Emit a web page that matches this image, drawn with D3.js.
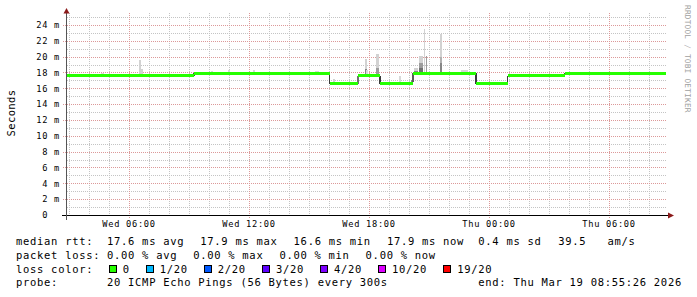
<!DOCTYPE html>
<html>
<head>
<meta charset="utf-8">
<script src="https://cdn.jsdelivr.net/npm/d3@7"></script>
<style>
body { margin: 0; background: #fff; }
svg { display: block; }
text { font-family: "DejaVu Sans Mono", monospace; white-space: pre; }
</style>
</head>
<body>
<svg width="697" height="297"></svg>
<script>
var parseT = d3.timeParse('%Y-%m-%d %H:%M');
var startTime = new Date(2026, 2, 18, 2, 55, 26);
var endTime = new Date(2026, 2, 19, 8, 55, 26);

// median rtt (ms), constant steps
var segFrom = ['2026-03-18 02:55', '2026-03-18 09:16', '2026-03-18 16:03', '2026-03-18 17:28', '2026-03-18 18:34',
	'2026-03-18 20:13', '2026-03-18 23:22', '2026-03-19 00:57', '2026-03-19 03:48'];
var segTo = ['2026-03-18 09:16', '2026-03-18 16:03', '2026-03-18 17:28', '2026-03-18 18:34', '2026-03-18 20:13',
	'2026-03-18 23:22', '2026-03-19 00:57', '2026-03-19 03:48', '2026-03-19 08:52'];
var segMs = [17.6, 17.9, 16.6, 17.6, 16.6, 17.9, 16.6, 17.6, 17.9];

// small wobbles of the median
var bumpAt = ['2026-03-18 03:34', '2026-03-18 04:34', '2026-03-18 05:43', '2026-03-18 06:25', '2026-03-18 07:25', '2026-03-18 08:22',
	'2026-03-18 09:28', '2026-03-18 10:07', '2026-03-18 11:19', '2026-03-18 11:58', '2026-03-18 12:34', '2026-03-18 13:04',
	'2026-03-18 13:49', '2026-03-18 14:22', '2026-03-18 15:04', '2026-03-19 04:04', '2026-03-19 05:01', '2026-03-19 05:16',
	'2026-03-19 06:25', '2026-03-19 07:10', '2026-03-19 08:04', '2026-03-19 08:43'];
var bumpMin = [10, 5, 10, 15, 10, 5, 10, 20, 10, 5, 10, 10, 30, 10, 15, 30, 5, 15, 15, 5, 25, 10];
var bumpMs = [17.7, 17.7, 17.7, 17.7, 17.7, 17.7, 17.8, 17.8, 17.8, 17.8, 17.8, 17.8,
	17.8, 17.8, 17.8, 17.8, 17.8, 17.8, 17.8, 17.8, 17.8, 17.8];

// smoke: spread of the 20 pings
var smokeAt = ['2026-03-18 04:37', '2026-03-18 06:31', '2026-03-18 06:37', '2026-03-18 07:22', '2026-03-18 09:13',
	'2026-03-18 10:07', '2026-03-18 10:58', '2026-03-18 12:13', '2026-03-18 15:20', '2026-03-18 16:00',
	'2026-03-18 16:13', '2026-03-18 17:25', '2026-03-18 17:49', '2026-03-18 17:49', '2026-03-18 17:53',
	'2026-03-18 18:22', '2026-03-18 18:22', '2026-03-18 18:31', '2026-03-18 19:31', '2026-03-18 20:07',
	'2026-03-18 20:10', '2026-03-18 20:17', '2026-03-18 20:17', '2026-03-18 20:32', '2026-03-18 20:32',
	'2026-03-18 20:32', '2026-03-18 20:45', '2026-03-18 20:51', '2026-03-18 21:33', '2026-03-18 21:33',
	'2026-03-18 21:33', '2026-03-18 22:37', '2026-03-18 23:19', '2026-03-19 00:54', '2026-03-19 03:45'];
var smokeMin = [10, 5, 5, 15, 5, 5, 5, 5, 10, 5, 5, 5, 5, 5, 5, 10, 10, 5, 5, 5, 5, 10, 10, 10, 10, 10,
	5, 5, 8, 8, 8, 20, 5, 5, 5];
var smokeLo = [17.6, 17.6, 17.6, 17.6, 17.6, 17.9, 17.9, 17.9, 17.9, 16.6, 16.6, 16.6, 17.6, 17.6, 17.6,
	17.6, 17.6, 16.6, 16.6, 16.6, 16.8, 17.9, 17.9, 17.9, 17.9, 17.9, 17.9, 17.9, 17.9, 17.9, 17.9,
	17.9, 16.6, 16.6, 17.6];
var smokeHi = [17.9, 19.6, 18.4, 17.85, 17.9, 18.2, 18.25, 18.3, 18.2, 17.9, 17.2, 17.6, 19.65, 18.4, 18.3,
	20.3, 18.5, 17.6, 17.5, 17.0, 17.9, 18.5, 18.2, 20.1, 19.2, 18.5, 23.45, 20.1, 22.9, 19.9, 19.2,
	18.3, 17.9, 17.6, 17.9];
var smokeDensity = [0.12, 0.15, 0.15, 0.12, 0.8, 0.12, 0.12, 0.12, 0.12, 0.85, 0.15, 0.6, 0.15, 0.5, 0.12,
	0.15, 0.4, 0.85, 0.12, 0.5, 0.7, 0.15, 0.5, 0.15, 0.4, 0.6, 0.15, 0.4, 0.15, 0.3, 0.5,
	0.12, 0.85, 0.85, 0.8];

var yTicks = [0, 2, 4, 6, 8, 10, 12, 14, 16, 18, 20, 22, 24];

var rttValues = [17.6, 17.9, 16.6, 17.9];
var rttNames = ['avg', 'max', 'min', 'now'];
var rttSd = 0.4;
var rttAmS = 39.5;
var lossValues = [0, 0, 0, 0];
var lossNames = ['avg', 'max', 'min', 'now'];
var lossSteps = ['0', '1/20', '2/20', '3/20', '4/20', '10/20', '19/20'];
var lossColors = ['#26ff00', '#00b8ff', '#0059ff', '#5e00ff', '#7e00ff', '#dd00ff', '#ff0000'];
var probeText = '20 ICMP Echo Pings (56 Bytes) every 300s';

var svg = d3.select('svg');

var x = d3.scaleTime().domain([startTime, endTime]).range([67, 667]);
var y = d3.scaleLinear().domain([0, 25.25]).range([215, 15]);
var shade = d3.scaleLinear().domain([0, 1]).range(['#f2f2f2', '#1a1a1a']);

var grid = svg.append('g').attr('shape-rendering', 'crispEdges');

// minor grid
grid.selectAll('.hmin').data(d3.range(1, 26).filter(function (d) { return d % 2; }))
	.enter().append('line')
	.attr('x1', 67).attr('x2', 667)
	.attr('y1', function (d) { return Math.round(y(d)) + 0.5; })
	.attr('y2', function (d) { return Math.round(y(d)) + 0.5; })
	.attr('stroke', '#c4c4c4').attr('stroke-dasharray', '1,1');

var hours = x.ticks(d3.timeHour.every(1));
var sixes = x.ticks(d3.timeHour.every(6));

grid.selectAll('.vmin').data(hours.filter(function (d) { return d.getHours() % 6; }))
	.enter().append('line')
	.attr('x1', function (d) { return Math.round(x(d)) + 0.5; })
	.attr('x2', function (d) { return Math.round(x(d)) + 0.5; })
	.attr('y1', 13).attr('y2', 215)
	.attr('stroke', '#c4c4c4').attr('stroke-dasharray', '1,1');

// major grid
grid.selectAll('.hmaj').data(yTicks.slice(1))
	.enter().append('line')
	.attr('x1', 63).attr('x2', 667)
	.attr('y1', function (d) { return Math.round(y(d)) + 0.5; })
	.attr('y2', function (d) { return Math.round(y(d)) + 0.5; })
	.attr('stroke', '#dc9999').attr('stroke-dasharray', '1,1');

grid.selectAll('.vmaj').data(sixes)
	.enter().append('line')
	.attr('x1', function (d) { return Math.round(x(d)) + 0.5; })
	.attr('x2', function (d) { return Math.round(x(d)) + 0.5; })
	.attr('y1', 13).attr('y2', 219)
	.attr('stroke', '#dc9999').attr('stroke-dasharray', '1,1');

// smoke
var plot = svg.append('g').attr('shape-rendering', 'crispEdges');
plot.selectAll('.smoke').data(smokeAt)
	.enter().append('rect')
	.attr('x', function (d) { return x(parseT(d)); })
	.attr('width', function (d, i) { return x(d3.timeMinute.offset(parseT(d), smokeMin[i])) - x(parseT(d)); })
	.attr('y', function (d, i) { return y(smokeHi[i]); })
	.attr('height', function (d, i) { return y(smokeLo[i]) - y(smokeHi[i]); })
	.attr('fill', function (d, i) { return shade(smokeDensity[i]); });

// median
plot.selectAll('.median').data(segMs)
	.enter().append('rect')
	.attr('x', function (d, i) { return x(parseT(segFrom[i])); })
	.attr('width', function (d, i) { return x(parseT(segTo[i])) - x(parseT(segFrom[i])); })
	.attr('y', function (d) { return y(d) - 1.3; })
	.attr('height', 2.6)
	.attr('fill', lossColors[0]);

plot.selectAll('.bump').data(bumpMs)
	.enter().append('rect')
	.attr('x', function (d, i) { return x(parseT(bumpAt[i])); })
	.attr('width', function (d, i) { return x(d3.timeMinute.offset(parseT(bumpAt[i]), bumpMin[i])) - x(parseT(bumpAt[i])); })
	.attr('y', function (d) { return y(d) - 1.3; })
	.attr('height', 2.6)
	.attr('fill', lossColors[0]);

// axes
var yAxis = d3.axisLeft(y).tickValues(yTicks).tickSize(0).tickPadding(7)
	.tickFormat(function (d) { return d === 0 ? '0  ' : d + ' m'; });
var gy = svg.append('g').attr('transform', 'translate(67,0)').call(yAxis);
gy.select('.domain').remove();
gy.selectAll('text').attr('font-family', '"DejaVu Sans Mono", monospace').attr('font-size', 8.7)
	.attr('letter-spacing', 0.7).attr('fill', '#000');

var xAxis = d3.axisBottom(x).ticks(d3.timeHour.every(6)).tickSize(0).tickPadding(6)
	.tickFormat(d3.timeFormat('%a %H:%M'));
var gx = svg.append('g').attr('transform', 'translate(0,215)').call(xAxis);
gx.select('.domain').remove();
gx.selectAll('text').attr('font-family', '"DejaVu Sans Mono", monospace').attr('font-size', 8.7)
	.attr('letter-spacing', 0.7).attr('fill', '#000');

svg.append('line').attr('x1', 62).attr('x2', 670).attr('y1', 215.5).attr('y2', 215.5)
	.attr('stroke', '#000').attr('shape-rendering', 'crispEdges');
svg.append('line').attr('x1', 66.5).attr('x2', 66.5).attr('y1', 11).attr('y2', 220)
	.attr('stroke', '#555').attr('shape-rendering', 'crispEdges');
svg.append('path').attr('d', 'M668,212.5L674,215.5L668,218.5Z').attr('fill', '#8b1a1a');
svg.append('path').attr('d', 'M63.5,13.5L66.5,8L69.5,13.5Z').attr('fill', '#8b1a1a');

// titles
svg.append('text').attr('transform', 'translate(15,113) rotate(-90)')
	.attr('text-anchor', 'middle').attr('font-size', 10.5).attr('letter-spacing', 0.4)
	.text('Seconds');
svg.append('text').attr('transform', 'translate(685,5) rotate(90)')
	.attr('font-size', 7.8).attr('letter-spacing', 0.2).attr('fill', '#a0a0a0')
	.text('RRDTOOL / TOBI OETIKER');

// legend
var legend = svg.append('g').attr('font-size', 10.5).attr('letter-spacing', 0.7).attr('fill', '#000');
var rows = [245, 258.8, 272.6, 286.4];
var f1 = d3.format('.1f'), f2 = d3.format('.2f');

legend.append('text').attr('x', 16).attr('y', rows[0]).text('median rtt:');
rttValues.forEach(function (v, i) {
	legend.append('text').attr('x', 107 + i * 93.3).attr('y', rows[0]).text(f1(v) + ' ms ' + rttNames[i]);
});
legend.append('text').attr('x', 478.3).attr('y', rows[0]).text(f1(rttSd) + ' ms sd');
legend.append('text').attr('x', 558.3).attr('y', rows[0]).text(f1(rttAmS) + '   am/s');

legend.append('text').attr('x', 16).attr('y', rows[1]).text('packet loss:');
lossValues.forEach(function (v, i) {
	legend.append('text').attr('x', 107 + i * 86.2).attr('y', rows[1]).text(f2(v) + ' % ' + lossNames[i]);
});

legend.append('text').attr('x', 16).attr('y', rows[2]).text('loss color:');
var bx = 108.7;
lossSteps.forEach(function (s, i) {
	legend.append('rect').attr('x', Math.round(bx) + 0.5).attr('y', 265.5).attr('width', 7).attr('height', 7)
		.attr('fill', lossColors[i]).attr('stroke', '#000').attr('shape-rendering', 'crispEdges');
	legend.append('text').attr('x', bx + 14).attr('y', rows[2]).text(s);
	bx = bx + 14 + s.length * 7.02 + 16;
});

legend.append('text').attr('x', 16).attr('y', rows[3]).text('probe:');
legend.append('text').attr('x', 107).attr('y', rows[3]).text(probeText);
legend.append('text').attr('x', 478.3).attr('y', rows[3])
	.text('end: ' + d3.timeFormat('%a %b %d %H:%M:%S %Y')(endTime));
</script>
</body>
</html>
